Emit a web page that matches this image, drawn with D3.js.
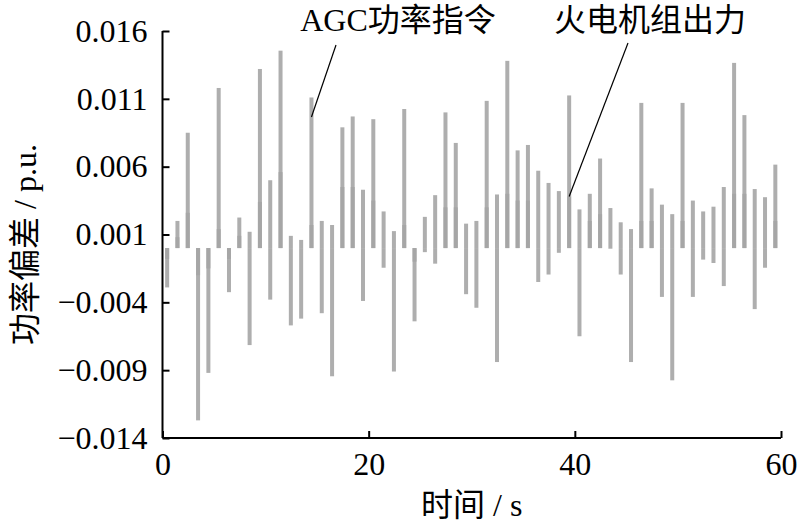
<!DOCTYPE html>
<html>
<head>
<meta charset="utf-8">
<script src="https://cdn.jsdelivr.net/npm/d3@7/dist/d3.min.js"></script>
<style>
  html, body { margin: 0; padding: 0; background: #fff; }
  svg { display: block; }
  text { font-family: "Liberation Serif", "Times New Roman", "Noto Sans CJK SC", serif; fill: #000; }
</style>
</head>
<body>
<svg id="chart" width="800" height="531"></svg>
<script>
// ---- data (values in p.u.) ----
const times = d3.range(60).map(i => i + 0.45);
const agcCommand = [
  -0.0029, 0.0020, 0.0085, -0.0127, -0.0092, 0.0118, -0.00325, 0.00225, -0.00715, 0.0132,
  0.0050, 0.01455, -0.0057, -0.0052, 0.0111, -0.0048, -0.00945, 0.0089, 0.0097, 0.0043,
  0.0095, 0.0027, -0.0091, 0.01025, -0.0054, 0.0023, 0.0039, 0.0100, 0.00775, -0.0034,
  -0.0044, 0.01085, -0.0084, 0.0138, 0.0072, 0.0076, 0.0057, 0.0048, 0.0042, 0.01125,
  -0.0065, 0.0040, 0.0066, 0.00295, -0.00195, -0.0084, 0.0107, 0.0044, -0.0036, -0.00975,
  0.0107, -0.0036, 0.0027, 0.00305, 0.0045, 0.01365, 0.0098, -0.0045, 0.00375, 0.00615
];
const unitOutput = [
  -0.0008, 0.0008, 0.0026, -0.0020, -0.0015, 0.0014, -0.0008, 0.0009, 0.0012, 0.0034,
  -0.0038, 0.0056, 0.0009, 0.0006, 0.0017, 0.0020, 0.0017, 0.0045, 0.0045, -0.0039,
  0.0035, -0.00145, 0.00125, 0.0017, -0.0010, -0.0003, -0.00115, 0.0030, 0.0030, 0.0018,
  0.0020, 0.0030, 0.00395, 0.0040, 0.0035, 0.0035, -0.0025, -0.00195, -0.00035, 0.0038,
  0.00285, 0.0020, 0.0025, -0.00005, 0.0019, 0.0014, 0.0020, 0.0020, 0.0032, 0.0025,
  0.0020, 0.0035, -0.00085, -0.0011, -0.0028, 0.0040, 0.0040, 0.00435, -0.00145, 0.0020
];
const xTicks = [0, 20, 40, 60];
const yTicks = [-0.014, -0.009, -0.004, 0.001, 0.006, 0.011, 0.016];
const seriesNames = ["AGC功率指令", "火电机组出力"];
const xTitle = "时间 / s";
const yTitle = "功率偏差 / p.u.";

// ---- layout ----
const svg = d3.select("#chart");
const x = d3.scaleLinear().domain([0, 60]).range([162.5, 781]);
const y = d3.scaleLinear().domain([-0.014, 0.016]).range([438, 31]);
const barW = 4;
const barFill = "#a5a5a5";
const fs = 32;

function drawBars(values, cls) {
  svg.append("g").attr("class", cls)
    .selectAll("rect").data(values).join("rect")
    .attr("x", (d, i) => x(times[i]) - barW / 2)
    .attr("width", barW)
    .attr("y", d => Math.min(y(d), y(0)))
    .attr("height", d => Math.abs(y(d) - y(0)))
    .attr("fill", barFill)
    .attr("fill-opacity", 0.9);
}
drawBars(agcCommand, "agc");
drawBars(unitOutput, "unit");

// axes
const fmt = d => (d < 0 ? "\u2212" : "") + Math.abs(d).toFixed(3);
const yAxis = d3.axisLeft(y).tickValues(yTicks).tickSize(-7).tickPadding(15).tickFormat(fmt);
const gy = svg.append("g").attr("transform", `translate(${x(0)},0)`).call(yAxis);
const xAxis = d3.axisBottom(x).tickValues(xTicks).tickSize(-7).tickPadding(14).tickFormat(d3.format("d"));
const gx = svg.append("g").attr("transform", `translate(0,${y(-0.014)})`).call(xAxis);

[gx, gy].forEach(g => {
  g.select(".domain").attr("stroke", "#000").attr("stroke-width", 2);
  g.selectAll(".tick line").attr("stroke", "#000").attr("stroke-width", 2);
  g.selectAll(".tick text").attr("font-size", fs).attr("font-family", "Liberation Serif").attr("fill", "#000");
});
gy.select(".domain").attr("d", `M0,${y(0.016)}V${y(-0.014)}`);
gx.select(".domain").attr("d", `M${x(0)},0H${x(60)}`);

// axis titles
svg.append("text")
  .attr("x", (x(0) + x(60)) / 2).attr("y", 516)
  .attr("text-anchor", "middle").attr("font-size", fs)
  .text(xTitle);
svg.append("text")
  .attr("transform", `translate(36,${(y(0.016) + y(-0.014)) / 2 + 10}) rotate(-90)`)
  .attr("text-anchor", "middle").attr("font-size", fs)
  .text(yTitle);

// annotations
const ann = [
  { name: seriesNames[0], tx: 398, ty: 31, from: [336, 45], idx: 14, val: agcCommand[14] * 0.87 },
  { name: seriesNames[1], tx: 650, ty: 31, from: [628, 43], idx: 39, val: unitOutput[39] }
];
ann.forEach(a => {
  svg.append("text").attr("x", a.tx).attr("y", a.ty)
    .attr("text-anchor", "middle").attr("font-size", fs).text(a.name);
  svg.append("line")
    .attr("x1", a.from[0]).attr("y1", a.from[1])
    .attr("x2", x(times[a.idx])).attr("y2", y(a.val))
    .attr("stroke", "#000").attr("stroke-width", 1.2);
});
</script>
</body>
</html>
